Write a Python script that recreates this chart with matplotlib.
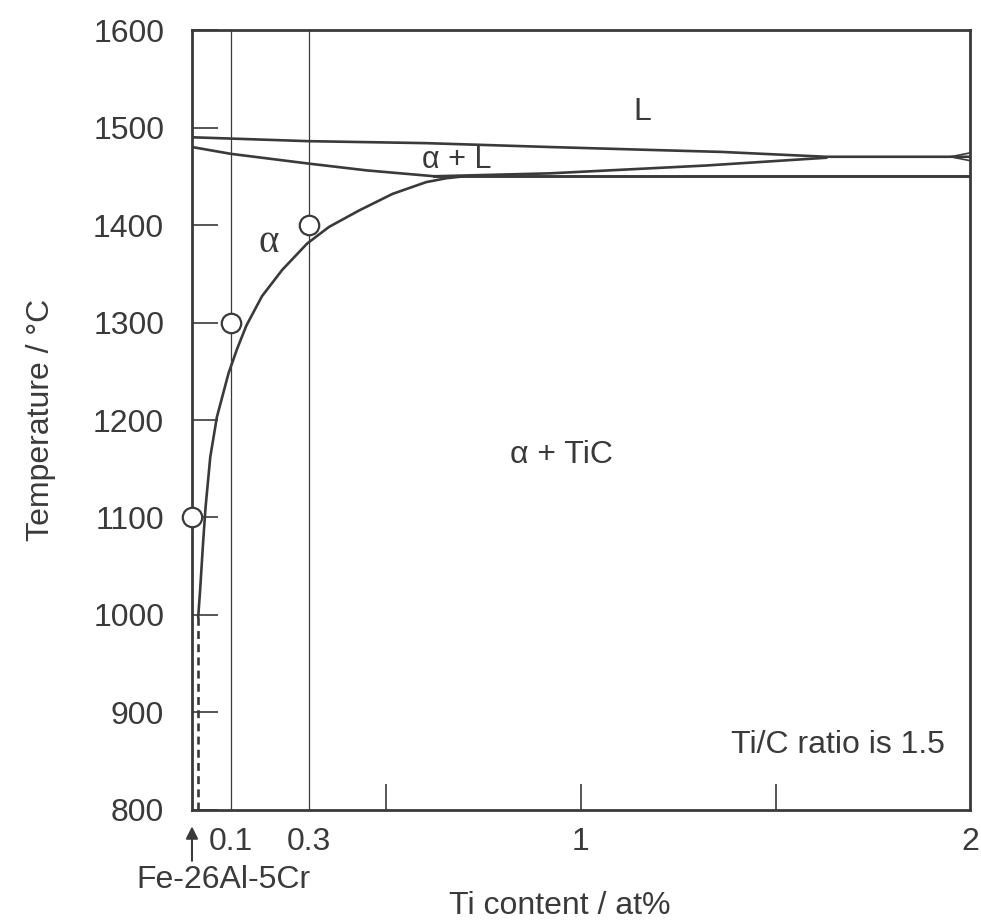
import matplotlib
matplotlib.use('Agg')
import matplotlib.pyplot as plt

plt.rcParams['font.family'] = ['Liberation Sans', 'DejaVu Sans']

ink = '#3a3a3a'

# alpha / alpha+TiC boundary (solvus)
solvus_x = [0.016, 0.021, 0.029, 0.035, 0.047, 0.064, 0.094, 0.116, 0.14, 0.18, 0.232, 0.296, 0.352, 0.43, 0.516, 0.602, 0.654, 0.7]
solvus_T = [998, 1026, 1077, 1111, 1162, 1203, 1248, 1273, 1297, 1327, 1354, 1381, 1398, 1415, 1432, 1444, 1448, 1450]

# dashed extension below 1000
dash_x = [0.016, 0.016]
dash_T = [800, 998]

# liquidus
liq_x = [0.0, 0.3, 0.6, 0.92, 1.18, 1.36, 1.63, 1.95, 2.0]
liq_T = [1490, 1486, 1484, 1480, 1477, 1475, 1470, 1470, 1470]

# solidus (alpha / alpha+L)
sol_x = [0.0, 0.1, 0.3, 0.45, 0.623]
sol_T = [1480, 1473, 1463, 1456, 1450]

# rising boundary from the 1450 line up to the liquidus
rise_x = [0.623, 0.92, 1.32, 1.63]
rise_T = [1450, 1453, 1461, 1469]

# horizontal line
eut_x = [0.623, 2.0]
eut_T = [1450, 1450]

# small wedge at right edge
wedge_up_x = [1.95, 2.0]
wedge_up_T = [1470, 1474]
wedge_dn_x = [1.95, 2.0]
wedge_dn_T = [1470, 1466]

# measured points
pts_x = [0.0, 0.1, 0.3]
pts_T = [1100, 1300, 1400]

comp_lines = [0.1, 0.3]

xticks = [0.1, 0.3, 1, 2]
xticklabels = ['0.1', '0.3', '1', '2']
xminor = [0.5, 1.0, 1.5]
yticks = [800, 900, 1000, 1100, 1200, 1300, 1400, 1500, 1600]

fig = plt.figure(figsize=(9.81, 9.24), dpi=100)
ax = fig.add_axes([0.1957, 0.1234, 0.7931, 0.8441])

for xv in comp_lines:
    ax.plot([xv, xv], [800, 1600], color=ink, lw=0.9)

ax.plot(solvus_x, solvus_T, color=ink, lw=1.9)
ax.plot(dash_x, dash_T, color=ink, lw=1.9, ls=(0, (3, 2)))
ax.plot(liq_x, liq_T, color=ink, lw=1.9)
ax.plot(sol_x, sol_T, color=ink, lw=1.9)
ax.plot(rise_x, rise_T, color=ink, lw=1.9)
ax.plot(eut_x, eut_T, color=ink, lw=2.1)
ax.plot(wedge_up_x, wedge_up_T, color=ink, lw=1.2)
ax.plot(wedge_dn_x, wedge_dn_T, color=ink, lw=1.2)

ax.plot(pts_x, pts_T, 'o', ms=14, mfc='white', mec=ink, mew=1.6, clip_on=False, zorder=5)

ax.set_xlim(0, 2.0)
ax.set_ylim(800, 1600)

ax.xaxis.remove_overlapping_locs = False
ax.set_xticks(xticks)
ax.set_xticklabels(xticklabels)
ax.set_xticks(xminor, minor=True)
ax.tick_params(axis='x', which='major', length=0, pad=12, labelsize=23, colors=ink)
ax.tick_params(axis='x', which='minor', direction='in', length=19, width=1.2, color=ink)
ax.set_yticks(yticks)
ax.tick_params(axis='y', direction='in', length=19, width=1.2, pad=20, labelsize=23, colors=ink)

for s in ax.spines.values():
    s.set_linewidth(2.0)
    s.set_color(ink)

ax.set_ylabel('Temperature / °C', fontsize=23, color=ink)
ax.yaxis.set_label_coords(-0.175, 0.5)
ax.set_xlabel('Ti content / at%', fontsize=23, color=ink)
ax.xaxis.set_label_coords(0.473, -0.104)

ax.text(1.158, 1516, 'L', fontsize=23, color=ink, ha='center', va='center')
ax.text(0.68, 1467, 'α + L', fontsize=22, color=ink, ha='center', va='center')
ax.text(0.196, 1382, 'α', fontsize=28, color=ink, ha='center', va='center',
        family=['Liberation Serif', 'DejaVu Serif'])
ax.text(0.951, 1164, 'α + TiC', fontsize=23, color=ink, ha='center', va='center')
ax.text(1.935, 867, 'Ti/C ratio is 1.5', fontsize=23, color=ink, ha='right', va='center')

ax.annotate('', xy=(0.0, 786), xytext=(0.0, 745), annotation_clip=False,
            arrowprops=dict(arrowstyle='-|>', color=ink, lw=1.5, mutation_scale=18))
ax.text(0.08, 728, 'Fe-26Al-5Cr', fontsize=23, color=ink, ha='center', va='center', clip_on=False)

fig.savefig('out.png', dpi=100)
